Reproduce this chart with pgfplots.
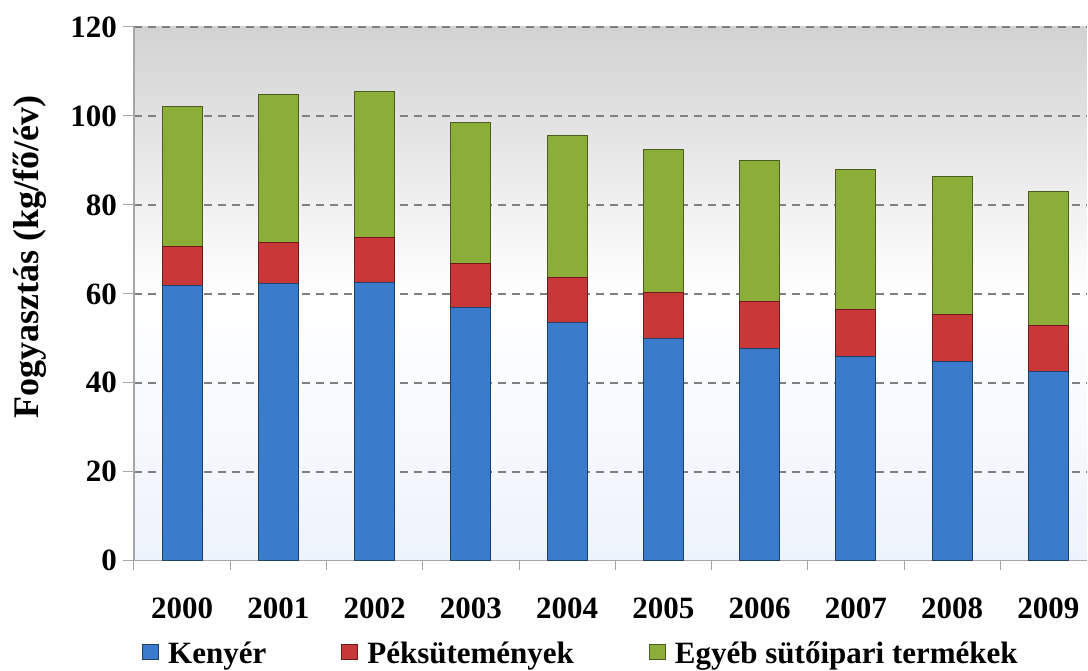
\documentclass[border=0pt]{standalone}
\usepackage{pgfplots}
\pgfplotsset{compat=1.18}
\usepackage{fontspec}
\setmainfont{Liberation Serif}
\definecolor{kblue}{HTML}{3B7BCB}
\definecolor{kblueE}{HTML}{1E3F66}
\definecolor{kred}{HTML}{C93838}
\definecolor{kredE}{HTML}{6E1A1A}
\definecolor{kgreen}{HTML}{8CAE38}
\definecolor{kgreenE}{HTML}{4A5E1E}
\definecolor{bgtop}{HTML}{D2D2D2}
\definecolor{bgbot}{HTML}{EDF3FC}
\begin{document}
\begin{tikzpicture}
\useasboundingbox (-134pt,-110.3pt) rectangle (954pt,560.7pt);
\begin{axis}[
  at={(0,0)}, anchor=south west,
  scale only axis,
  width=953pt, height=533.7pt,
  xmin=-0.5, xmax=9.4, ymin=0, ymax=120,
  ybar stacked, bar width=40pt,
  axis background/.style={top color=bgtop, bottom color=bgbot, middle color=white},
  axis line style={draw=gray!70, line width=1.2pt},
  axis x line*=bottom, axis y line*=left,
  xtick={0,...,9},
  xticklabels={2000,2001,2002,2003,2004,2005,2006,2007,2008,2009},
  major x tick style={draw=none},
  minor xtick={-0.5,0.5,1.5,2.5,3.5,4.5,5.5,6.5,7.5,8.5},
  minor x tick style={draw=gray!70, line width=1pt},
  minor tick length=9pt,
  ytick={0,20,...,120},
  major tick length=11pt,
  y tick style={draw=gray!70, line width=1pt},
  tick align=outside,
  ymajorgrids, grid style={dashed, dash pattern=on 8pt off 6pt, draw=gray, line width=1.6pt},
  tick label style={font=\fontsize{31}{36}\selectfont\bfseries},
  xticklabel style={inner sep=0pt, anchor=north, yshift=-26pt},
  yticklabel style={inner sep=0pt, anchor=east, xshift=-6pt},
  /pgf/number format/assume math mode=true,
  ylabel={Fogyasztás (kg/fő/év)},
  ylabel style={font=\fontsize{36}{40}\selectfont\bfseries, at={(axis description cs:-0.109,0.569)}, anchor=center},
  legend columns=3,
  legend style={draw=none, fill=none, at={(axis description cs:0.0084,-0.1735)}, anchor=west,
    font=\fontsize{31}{36}\selectfont\bfseries, inner sep=0pt,
    /tikz/every odd column/.append style={column sep=7pt},
    /tikz/every even column/.append style={column sep=73pt}},
  legend image code/.code={\fill[#1] (0pt,-6.5pt) rectangle (16pt,9pt);},
  clip=false,
]
\addplot+[fill=kblue, draw=kblueE, line width=1pt] coordinates {
(0,61.8) (1,62.3) (2,62.6) (3,56.9) (4,53.5) (5,50.0) (6,47.6) (7,45.8) (8,44.7) (9,42.5)};
\addplot+[fill=kred, draw=kredE, line width=1pt] coordinates {
(0,8.8) (1,9.2) (2,10.1) (3,9.9) (4,10.2) (5,10.3) (6,10.7) (7,10.6) (8,10.7) (9,10.3)};
\addplot+[fill=kgreen, draw=kgreenE, line width=1pt] coordinates {
(0,31.6) (1,33.3) (2,32.8) (3,31.7) (4,31.9) (5,32.1) (6,31.7) (7,31.6) (8,31.0) (9,30.1)};
\legend{Kenyér,Péksütemények,Egyéb sütőipari termékek}
\end{axis}
\end{tikzpicture}
\end{document}
